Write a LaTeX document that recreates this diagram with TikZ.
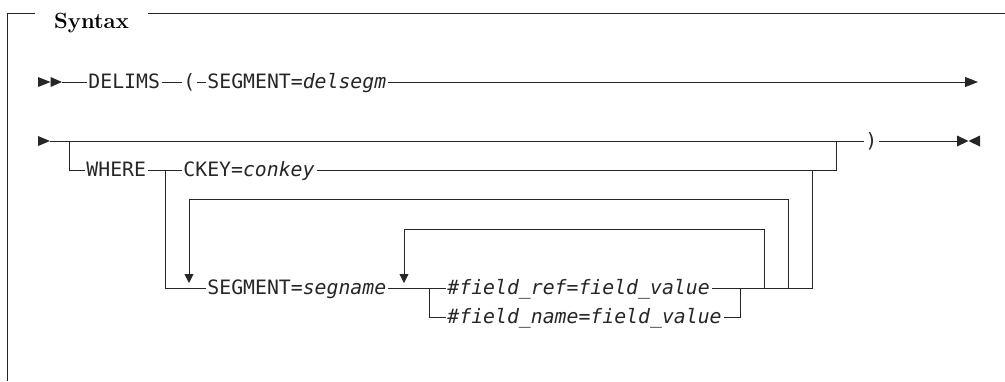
\documentclass[tikz,border=0pt]{standalone}
\usepackage{fontspec}
\newfontfamily\rrfont{DejaVu Sans Mono}
\usetikzlibrary{arrows.meta}

\begin{document}
\begin{tikzpicture}[x=1pt, y=-1pt, line width=0.9pt, draw=black!85,
  kw/.style={anchor=west, inner xsep=1.5pt, inner ysep=0pt, text height=12pt,
    text depth=0pt, text=black!85, font=\rrfont\fontsize{19.8}{20}\selectfont},
  down/.style={-{Triangle[length=9pt,width=9pt]}}]
\useasboundingbox (0,0) rectangle (1005,381);
% Rahmen
\node[anchor=base, font=\fontsize{22}{22}\selectfont\bfseries] (syntax) at (91.5,28) {Syntax};
\draw (7,381) -- (7,13) -- (35,13);
\draw (148,13) -- (1005,13);
% Zeile 1
\fill[black!85] (38,77) -- (50.5,82) -- (38,87) -- cycle;
\fill[black!85] (50.5,77) -- (62,82) -- (50.5,87) -- cycle;
\coordinate (r1start) at (62,82);
\coordinate (r1end) at (978,82);
\node[kw] (delims) at (86.5,82) {DELIMS};
\node[kw] (lpar) at (181.5,82) {(};
\node[kw] (segdel) at (205.5,82) {SEGMENT=\textit{delsegm}};
\draw (r1start) -- (delims.west);
\draw (delims.east) -- (lpar.west);
\draw (lpar.east) -- (segdel.west);
\draw[-{Triangle[length=13pt,width=10pt]}] (segdel.east) -- (r1end);
% Zeile 2
\fill[black!85] (38,136) -- (50,141) -- (38,146) -- cycle;
\coordinate (r2start) at (50,141);
\coordinate (r2end) at (957,141);
\node[kw] (rpar) at (863.5,141) {)};
\draw (r2start) -- (rpar.west);
\draw (rpar.east) -- (r2end);
\fill[black!85] (957,135.5) -- (968.5,141) -- (957,146.5) -- cycle;
\fill[black!85] (980,135.5) -- (968.5,141) -- (980,146.5) -- cycle;
% WHERE
\coordinate (brwhere) at (69,141);
\coordinate (mrgwhere) at (836,141);
\coordinate (brseg) at (165,170);
\coordinate (mrgseg) at (812,170);
\node[kw] (where) at (84.5,170) {WHERE};
\node[kw] (ckey) at (181.5,170) {CKEY=\textit{conkey}};
\draw (brwhere) |- (where.west);
\draw (where.east) -- (ckey.west);
\draw (ckey.east) -| (mrgwhere);
% SEGMENT
\node[kw] (segnm) at (205.5,288) {SEGMENT=\textit{segname}};
\node[kw] (fref) at (445.5,288) {\textit{\#field\_ref=field\_value}};
\node[kw] (fname) at (445.5,317) {\textit{\#field\_name=field\_value}};
\coordinate (brfld) at (429,288);
\coordinate (mrgfld) at (740,288);
\draw (brseg) |- (segnm.west);
\draw (segnm.east) -- (fref.west);
\draw (brfld) |- (fname.west);
\draw (fname.east) -| (mrgfld);
\draw (fref.east) -| (mrgseg);
% Wiederholungen
\coordinate (rep1) at (788,288);
\coordinate (rep2) at (764,288);
\draw[down] (rep1) |- (189,199) -- (189,283);
\draw[down] (rep2) |- (404,229) -- (404,283);
\end{tikzpicture}
\end{document}
